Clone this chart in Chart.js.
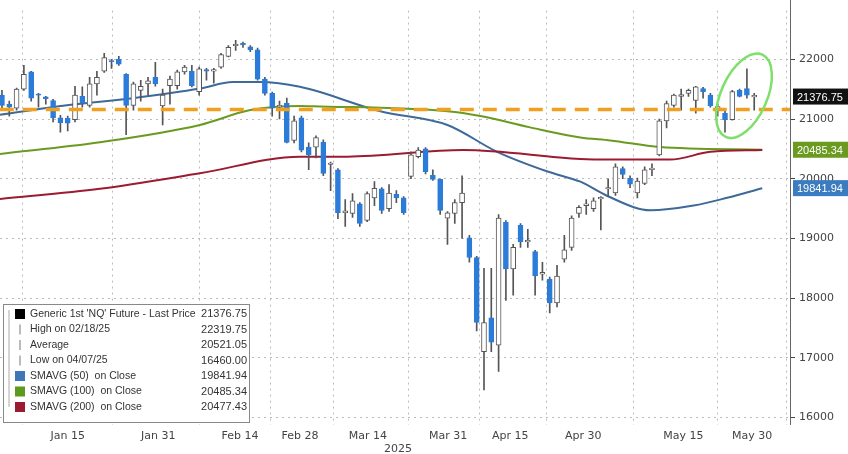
<!DOCTYPE html>
<html><head><meta charset="utf-8">
<script src="https://cdn.jsdelivr.net/npm/chart.js@4/dist/chart.umd.min.js"></script>
<style>html,body{margin:0;padding:0;background:#fff;overflow:hidden}</style>
</head><body><canvas id="c" width="848" height="454" style="width:848px;height:454px;display:block"></canvas>
<script>
const opens =[21400,21250,21180,21500,21790,21420,21370,21310,21020,21010,20990,21380,21230,21590,21800,21980,22000,21750,21230,21480,21590,21700,21220,21560,21560,21790,21800,21460,21830,21800,21870,22050,22230,22250,22210,22160,21670,21430,21200,
21265,20640,21020,20530,20530,20610,20240,20150,19430,19420,19580,19300,19680,19830,19500,19740,19680,20040,20370,20500,20055,19990,19340,19420,19600,19010,18680,17100,17670,17210,19270,18490,19220,18940,18780,18400,18320,17920,18650,18850,
19420,19550,19500,19660,19830,19760,20170,20010,19760,19920,20150,20400,20970,21230,21380,21430,21310,21510,21400,21180,21100,20990,21480,21510,21370];
const highs =[21480,21300,21520,21900,21800,21430,21380,21330,21060,21050,21550,21540,21700,21800,22100,22000,22050,21760,21620,21650,21700,21950,21500,21720,21820,21900,21900,21870,21850,21850,22100,22230,22320,22290,22230,22190,21700,21450,21300,
21350,21050,21050,20600,20720,20650,20280,20170,19650,19750,19600,19780,19950,19850,19900,19800,19700,20450,20520,20520,20150,20000,19450,19650,20050,19050,18700,18500,18500,19400,19300,18900,19250,19150,18800,18600,18350,18550,19050,19380,
19550,19650,19680,19700,20000,20250,20200,20050,20010,20200,20250,21000,21300,21420,21500,21500,21550,21530,21430,21250,21150,21480,21500,21840,21430];
const lows  =[21150,21050,21150,21480,21300,21200,21250,20950,20780,20800,20950,21200,21200,21400,21780,21850,21900,20740,21150,21300,21400,21550,20900,21250,21500,21750,21540,21400,21650,21600,21850,22040,22150,22200,22130,21650,21400,21050,21000,
20600,20600,20450,20150,20350,20050,19800,19330,19200,19350,19200,19280,19550,19420,19450,19600,19400,20000,20350,20080,19970,19400,18900,19250,19000,18600,17450,16460,17100,16770,17960,18050,18850,18850,18050,18300,17750,17850,18600,18800,
19350,19400,19450,19140,19700,19720,20000,19850,19680,19900,20050,20380,20850,21200,21150,21380,21100,21350,21200,21050,20780,20980,21370,21350,21150];
const closes=[21230,21200,21500,21750,21350,21400,21340,21020,20940,20930,21400,21260,21590,21700,22030,21960,21920,21230,21590,21550,21640,21590,21400,21670,21790,21870,21560,21840,21800,21810,22080,22200,22250,22240,22160,21670,21430,21180,21230,
20610,20970,20480,20400,20690,20090,20260,19430,19440,19630,19250,19750,19840,19470,19760,19680,19430,20400,20480,20120,19990,19470,19430,19600,19760,18680,17590,17590,17260,19340,18490,18850,18940,18950,18370,18410,17920,18370,18810,19340,
19520,19560,19630,19670,19850,20200,20070,19910,19960,20150,20160,20970,21260,21400,21390,21480,21540,21460,21220,21190,20990,21460,21380,21400,21376.75];
const sma50X =[-0.3,8.9,17.9,27.1,31.6,35.3,40.8,51.8,61,67.8,74.7,79.2,82.9,88.8,94.7,99.3,104.1];
const sma50Y =[21070,21230,21350,21510,21620,21620,21540,21130,20900,20450,20120,19950,19710,19470,19550,19680,19840];
const sma100X=[-0.3,13.4,27.1,34,40.8,42.6,61,65.5,72.3,79.2,83.3,90.1,104.1];
const sma100Y=[20415,20610,20900,21150,21220,21215,21130,21050,20860,20690,20640,20530,20485];
const sma200X=[-0.3,13.4,27.1,40.8,47.3,63.2,79.2,83.3,91.5,97,104.1];
const sma200Y=[19660,19830,20090,20370,20370,20480,20330,20320,20320,20450,20480];
const avgLine=21160;
const tickLabels=["Jan 15","Jan 31","Feb 14","Feb 28","Mar 14","Mar 31","Apr 15","Apr 30","May 15","May 30"];
const tickIdx=[9,21.4,32.6,40.8,50.1,61.1,69.6,79.6,93.3,102.7];
const yTicks=[16000,17000,18000,19000,20000,21000,22000];
const legendNames=["Generic 1st 'NQ' Future - Last Price","High on 02/18/25","Average","Low on 04/07/25","SMAVG (50)  on Close","SMAVG (100)  on Close","SMAVG (200)  on Close"];
const legendVals=["21376.75","22319.75","20521.05","16460.00","19841.94","20485.34","20477.43"];
const BLUE='#2b7bd9';
const idx=opens.map((_,i)=>i);
const pts=(X,Y)=>X.map((x,i)=>({x:x,y:Y[i]}));
const wick=idx.map(i=>({x:i,y:[lows[i],highs[i]]}));
const body=idx.map(i=>({x:i,y:[Math.min(opens[i],closes[i]),Math.max(opens[i],closes[i])+(Math.abs(opens[i]-closes[i])<20?20:0)]}));
const down=idx.map(i=>closes[i]<opens[i]);
const overlay={id:'ov',afterDatasetsDraw(ch){
 const c=ch.ctx,x=ch.scales.x,y=ch.scales.y,a=ch.chartArea;
 c.save();
 c.strokeStyle='#666';c.lineWidth=1;c.beginPath();c.moveTo(a.right+0.5,0);c.lineTo(a.right+0.5,a.bottom);c.stroke();
 const cx=x.getPixelForValue(101.6),cy=y.getPixelForValue(21390);
 c.strokeStyle='#7ee06a';c.lineWidth=2.5;c.beginPath();c.ellipse(cx,cy,23,45,0.42,0,Math.PI*2);c.stroke();
 const box=(v,bg,fg)=>{const py=y.getPixelForValue(v);c.font='11px "Liberation Sans"';const t=v.toFixed(2);const w=c.measureText(t).width+10;c.fillStyle=bg;c.fillRect(a.right+3,py-8,w,16);c.fillStyle=fg;c.textBaseline='middle';c.textAlign='left';c.fillText(t,a.right+7,py+1);};
 box(21376.75,'#111','#fff');box(20485.34,'#6a9a1f','#fff');box(19841.94,'#3b7bbf','#fff');
 c.fillStyle='#fff';c.strokeStyle='#888';c.lineWidth=1;c.fillRect(3,304,246,118);c.strokeRect(3.5,304.5,246,118);
 c.textBaseline='middle';
 const sw=['#000',null,null,null,'#3d77b8','#5c9a1e','#9b1b30'];
 legendNames.forEach((r,i)=>{const ry=314+i*15.5;
  if(sw[i]){c.fillStyle=sw[i];c.fillRect(15,ry-5,10,10);} else {c.strokeStyle='#777';c.beginPath();c.moveTo(20,ry-5);c.lineTo(20,ry+5);c.stroke();}
  c.fillStyle='#333';c.textAlign='left';c.font='10.5px "Liberation Sans"';c.fillText(r,30,ry);
  c.font='11px "Liberation Sans"';c.textAlign='right';c.fillText(legendVals[i],247,ry);});
 c.strokeStyle='#aaa';c.beginPath();c.moveTo(9,310);c.lineTo(9,407);c.stroke();
 c.fillStyle='#444';c.textAlign='center';c.textBaseline='middle';c.font='11px "DejaVu Sans"';
 tickLabels.forEach((t,i)=>c.fillText(t,x.getPixelForValue(tickIdx[i]),436));
 c.fillText('2025',398,449);
 c.restore();
}};
new Chart(document.getElementById('c'),{
 type:'bar',
 data:{datasets:[
  {type:'line',data:pts(sma200X,sma200Y),borderColor:'#9b1b30',borderWidth:2,pointRadius:0,cubicInterpolationMode:'monotone',order:5},
  {type:'line',data:pts(sma100X,sma100Y),borderColor:'#6a9a1f',borderWidth:2,pointRadius:0,cubicInterpolationMode:'monotone',order:5},
  {type:'line',data:pts(sma50X,sma50Y),borderColor:'#3d6a99',borderWidth:2,pointRadius:0,cubicInterpolationMode:'monotone',order:5},
  {data:wick,backgroundColor:'#555',barThickness:1,grouped:false,order:3},
  {data:body,backgroundColor:down.map(d=>d?BLUE:'#fff'),borderColor:down.map(d=>d?BLUE:'#555'),borderWidth:1,borderSkipped:false,barThickness:5,grouped:false,order:2},
  {type:'line',data:[{x:-0.3,y:avgLine},{x:108,y:avgLine}],borderColor:'#f0a020',borderWidth:3.5,borderDash:[14,9],pointRadius:0,order:1}
 ]},
 options:{responsive:false,animation:false,devicePixelRatio:1,
  layout:{padding:0},
  plugins:{legend:{display:false},tooltip:{enabled:false}},
  scales:{
   x:{type:'linear',offset:false,min:-0.27,max:107.9,afterBuildTicks:s=>{s.ticks=tickIdx.map(v=>({value:v}));},
      ticks:{display:false},grid:{color:'#bbb',lineWidth:1,drawTicks:false},border:{display:false,dash:[2,4]},afterFit:s=>{s.height=29;}},
   y:{position:'right',min:15873,max:22817,afterBuildTicks:s=>{s.ticks=yTicks.map(v=>({value:v}));},
      ticks:{color:'#444',font:{family:'DejaVu Sans',size:11},padding:4,callback:v=>String(v)},
      grid:{color:'#bbb',tickColor:'#444',tickLength:5},border:{display:false,dash:[2,4]},afterFit:s=>{s.width=58;}}
  }},
 plugins:[overlay]
});
</script>
</body></html>
